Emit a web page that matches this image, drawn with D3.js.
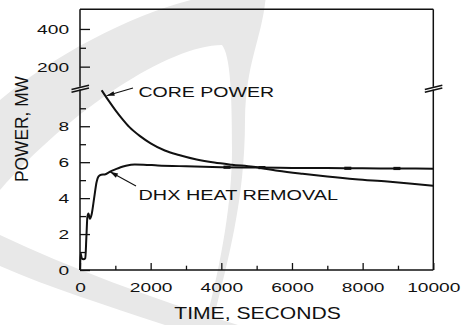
<!DOCTYPE html>
<html><head><meta charset="utf-8">
<script src="https://cdn.jsdelivr.net/npm/d3@7"></script>
<style>html,body{margin:0;padding:0;background:#fff;}svg{display:block;}</style>
</head><body>
<script>
// ---- data ----
const coreTime  = [613, 800, 1000, 1200, 1400, 1700, 2000, 2400, 2800, 3300, 3800, 4300, 4900, 5600, 6300, 7000, 7800, 8700, 9400, 10000];
const corePower = [10.0, 9.45, 8.9, 8.4, 7.95, 7.45, 7.05, 6.65, 6.4, 6.15, 5.98, 5.86, 5.74, 5.52, 5.35, 5.2, 5.05, 4.92, 4.8, 4.69];
const dhxTime  = [0, 20, 50, 100, 150, 180, 210, 240, 280, 330, 400, 470, 520, 600, 700, 850, 1000, 1150, 1300, 1550, 1800, 2200, 3000, 4000, 5000, 6000, 7000, 8000, 9000, 10000];
const dhxPower = [0, 0.93, 0.65, 0.6, 0.65, 1.8, 2.97, 3.15, 2.85, 3.1, 4.0, 4.9, 5.2, 5.3, 5.32, 5.47, 5.6, 5.72, 5.8, 5.87, 5.86, 5.82, 5.77, 5.72, 5.7, 5.68, 5.67, 5.66, 5.65, 5.64];
const dhxMarkTime  = [4160, 5150, 7580, 8970];
const dhxMarkPower = [5.72, 5.70, 5.66, 5.65];
const xTicksMajor = [0, 2000, 4000, 6000, 8000, 10000];
const xTicksMinor = [1000, 3000, 5000, 7000, 9000];
const yLowMajor = [0, 2, 4, 6, 8];
const yLowMinor = [1, 3, 5, 7, 9];
const yHighMajor = [200, 400];
const yHighMinor = [300];
const xTitle = "TIME, SECONDS";
const yTitle = "POWER, MW";
const coreLabel = "CORE POWER";
const dhxLabel = "DHX HEAT REMOVAL";

// ---- layout ----
const W = 464, H = 325;
const L = 80, R = 433.3, T = 9.3, B = 270;
const FONT = "'Liberation Sans', Arial, Helvetica, sans-serif";
const INK = "#111";

const svg = d3.select("body").append("svg").attr("width", W).attr("height", H);

// watermark swooshes
const wm = svg.append("g").attr("fill", "#e8e8e8");
wm.append("path").attr("d",
  "M0,100 C60,50 150,5 215,-5 L266,-5 C262,40 246,60 245,120 C245,200 228,260 212,325 L205,325 C222,260 232,200 232,150 C232,90 230,55 222,45 C170,45 70,110 0,190 Z");
wm.append("path").attr("d",
  "M0,235 C70,268 150,298 238,325 L165,325 C105,305 50,288 0,266 Z");

const x = d3.scaleLinear().domain([0, 10000]).range([L, R]);
const yLow = d3.scaleLinear().domain([0, 10]).range([B, 90.3]);
const yHigh = d3.scaleLinear().domain([100, 500]).range([85.5, 10.1]);

function styleAxis(g, sx) {
  g.select(".domain").remove();
  g.selectAll("line").attr("stroke", INK).attr("stroke-width", 1.3);
  g.selectAll("text").attr("font-family", FONT).attr("font-size", 13.5)
    .attr("fill", INK).attr("transform", `scale(${sx},1)`);
}

// x axis
const gx = svg.append("g").attr("transform", `translate(0,${B})`)
  .call(d3.axisBottom(x).tickValues(xTicksMajor).tickSize(-7).tickPadding(12.7).tickFormat(d3.format("d")));
styleAxis(gx, 1.42);
const gx2 = svg.append("g").attr("transform", `translate(0,${B})`)
  .call(d3.axisBottom(x).tickValues(xTicksMinor).tickSize(-4.3).tickFormat(""));
styleAxis(gx2, 1);

// y axes
function yAxis(scale, major, minor) {
  const g = svg.append("g").attr("transform", `translate(${L},0)`)
    .call(d3.axisLeft(scale).tickValues(major).tickSize(-10).tickPadding(7.7).tickFormat(d3.format("d")));
  styleAxis(g, 1.42);
  g.selectAll("text").attr("dy", "0.35em");
  const g2 = svg.append("g").attr("transform", `translate(${L},0)`)
    .call(d3.axisLeft(scale).tickValues(minor).tickSize(-6).tickFormat(""));
  styleAxis(g2, 1);
}
yAxis(yLow, yLowMajor, yLowMinor);
yAxis(yHigh, yHighMajor, yHighMinor);

// frame with breaks
const frame = svg.append("g").attr("stroke", INK).attr("stroke-width", 1.5).attr("fill", "none");
frame.append("line").attr("x1", L).attr("x2", R).attr("y1", T).attr("y2", T);
frame.append("line").attr("x1", L).attr("x2", R).attr("y1", B).attr("y2", B);
[L, R].forEach(ax => {
  frame.append("line").attr("x1", ax).attr("x2", ax).attr("y1", T).attr("y2", 86.8);
  frame.append("line").attr("x1", ax).attr("x2", ax).attr("y1", 89.6).attr("y2", B);
  frame.append("line").attr("x1", ax - 8.5).attr("x2", ax + 9).attr("y1", 89.5).attr("y2", 85.2);
  frame.append("line").attr("x1", ax - 8.5).attr("x2", ax + 9).attr("y1", 92.2).attr("y2", 87.9);
});

// curves
const line = d3.line().x(d => x(d[0])).y(d => yLow(d[1])).curve(d3.curveMonotoneX);
const coreData = coreTime.map((t, i) => [t, corePower[i]]);
const dhxData = dhxTime.map((t, i) => [t, dhxPower[i]]);
svg.append("path").attr("d", line(coreData)).attr("fill", "none").attr("stroke", INK).attr("stroke-width", 2);
svg.append("path").attr("d", line(dhxData)).attr("fill", "none").attr("stroke", INK).attr("stroke-width", 2);
svg.append("g").selectAll("line").data(dhxMarkTime).join("line")
  .attr("x1", (t) => x(t) - 3.5).attr("x2", (t) => x(t) + 3.5)
  .attr("y1", (t, i) => yLow(dhxMarkPower[i])).attr("y2", (t, i) => yLow(dhxMarkPower[i]))
  .attr("stroke", INK).attr("stroke-width", 3.2);

// annotations
function arrow(x1, y1, x2, y2) {
  svg.append("line").attr("x1", x1).attr("y1", y1).attr("x2", x2).attr("y2", y2)
    .attr("stroke", INK).attr("stroke-width", 1.1);
  const a = Math.atan2(y2 - y1, x2 - x1), len = 8, w = 2.4;
  const bx = x2 - len * Math.cos(a), by = y2 - len * Math.sin(a);
  const px = -Math.sin(a) * w, py = Math.cos(a) * w;
  svg.append("path").attr("d", `M${x2},${y2}L${bx + px},${by + py}L${bx - px},${by - py}Z`).attr("fill", INK);
}
arrow(133, 88, 106.5, 95.8);
arrow(136, 186, 110, 171.8);

function label(txt, tx, ty, size, len, anchor) {
  svg.append("text").attr("x", tx).attr("y", ty)
    .attr("font-family", FONT).attr("font-size", size).attr("fill", INK)
    .attr("textLength", len).attr("lengthAdjust", "spacingAndGlyphs")
    .attr("text-anchor", anchor || "start").text(txt);
}
label(coreLabel, 138.5, 96.7, 15, 135.5);
label(dhxLabel, 138.5, 200, 15, 199.5);
label(xTitle, 257.5, 319.3, 17, 166.5, "middle");

svg.append("text").attr("transform", "translate(28.3,129) rotate(-90)")
  .attr("font-family", FONT).attr("font-size", 17.5).attr("fill", INK)
  .attr("textLength", 106).attr("lengthAdjust", "spacingAndGlyphs")
  .attr("text-anchor", "middle").text(yTitle);
</script>
</body></html>
